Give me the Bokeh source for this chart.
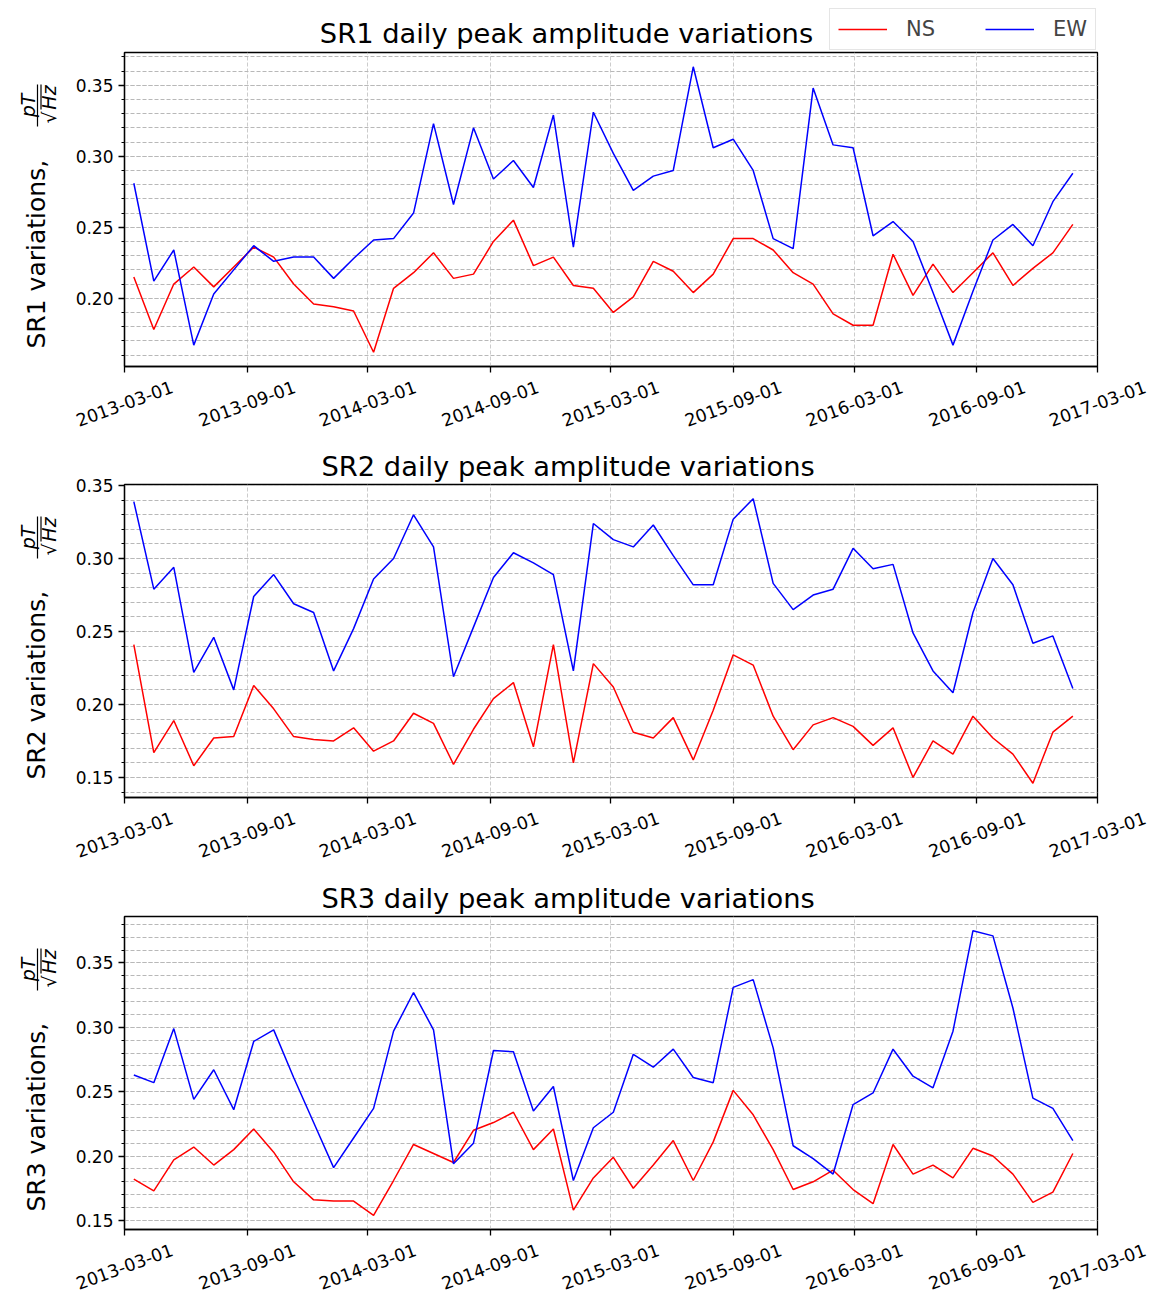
import numpy as np
import pandas as pd
from bokeh.plotting import figure
from bokeh.layouts import column, row
from bokeh.models import (Range1d, FixedTicker, SingleIntervalTicker,
                          NumeralTickFormatter, Legend, LegendItem, ColumnDataSource)
from bokeh.core.properties import value
from bokeh.embed import file_html
from bokeh.resources import INLINE

# Sampling: one value every 30 days, starting mid-March 2013
START = "2013-03-15"
STEP_DAYS = 30
N_POINTS = 48
dates = pd.date_range(START, periods=N_POINTS, freq=f"{STEP_DAYS}D")

TICK_LABELS = ["2013-03-01", "2013-09-01", "2014-03-01", "2014-09-01", "2015-03-01",
               "2015-09-01", "2016-03-01", "2016-09-01", "2017-03-01"]

SR1_NS = [0.215, 0.178, 0.210, 0.222, 0.208, 0.222, 0.236, 0.229, 0.210, 0.196, 0.194, 0.191,
          0.162, 0.207, 0.218, 0.232, 0.214, 0.217, 0.240, 0.255, 0.223, 0.229, 0.209, 0.207,
          0.190, 0.201, 0.226, 0.219, 0.204, 0.217, 0.242, 0.242, 0.234, 0.218, 0.210, 0.189,
          0.181, 0.181, 0.231, 0.202, 0.224, 0.204, 0.218, 0.232, 0.209, 0.221, 0.232, 0.252]
SR1_EW = [0.281, 0.212, 0.234, 0.167, 0.203, 0.220, 0.237, 0.226, 0.229, 0.229, 0.214, 0.228,
          0.241, 0.242, 0.260, 0.323, 0.266, 0.320, 0.284, 0.297, 0.278, 0.329, 0.236, 0.331,
          0.302, 0.276, 0.286, 0.290, 0.363, 0.306, 0.312, 0.290, 0.242, 0.235, 0.348, 0.308,
          0.306, 0.244, 0.254, 0.240, 0.204, 0.167, 0.205, 0.241, 0.252, 0.237, 0.268, 0.288]

SR2_NS = [0.241, 0.167, 0.189, 0.158, 0.177, 0.178, 0.213, 0.197, 0.178, 0.176, 0.175, 0.184,
          0.168, 0.175, 0.194, 0.187, 0.159, 0.183, 0.204, 0.215, 0.171, 0.241, 0.160, 0.228,
          0.212, 0.181, 0.177, 0.191, 0.162, 0.196, 0.234, 0.227, 0.192, 0.169, 0.186, 0.191,
          0.185, 0.172, 0.184, 0.150, 0.175, 0.166, 0.192, 0.177, 0.166, 0.146, 0.181, 0.192]
SR2_EW = [0.339, 0.279, 0.294, 0.222, 0.246, 0.210, 0.274, 0.289, 0.269, 0.263, 0.223, 0.252,
          0.286, 0.300, 0.330, 0.308, 0.219, 0.253, 0.287, 0.304, 0.297, 0.289, 0.223, 0.324,
          0.313, 0.308, 0.323, 0.302, 0.282, 0.282, 0.327, 0.341, 0.283, 0.265, 0.275, 0.279,
          0.307, 0.293, 0.296, 0.249, 0.223, 0.208, 0.263, 0.300, 0.282, 0.242, 0.247, 0.211]

SR3_NS = [0.182, 0.173, 0.197, 0.207, 0.193, 0.205, 0.221, 0.203, 0.180, 0.166, 0.165, 0.165,
          0.154, 0.181, 0.209, 0.202, 0.195, 0.220, 0.226, 0.234, 0.205, 0.221, 0.158, 0.183,
          0.199, 0.175, 0.193, 0.212, 0.181, 0.211, 0.251, 0.232, 0.205, 0.174, 0.180, 0.189,
          0.174, 0.163, 0.209, 0.186, 0.193, 0.183, 0.206, 0.200, 0.186, 0.164, 0.172, 0.202]
SR3_EW = [0.263, 0.257, 0.299, 0.244, 0.267, 0.236, 0.289, 0.298, 0.261, 0.226, 0.191, 0.214,
          0.237, 0.297, 0.327, 0.298, 0.194, 0.210, 0.282, 0.281, 0.235, 0.254, 0.181, 0.222,
          0.234, 0.279, 0.269, 0.283, 0.261, 0.257, 0.331, 0.337, 0.284, 0.208, 0.198, 0.186,
          0.240, 0.249, 0.283, 0.262, 0.253, 0.297, 0.375, 0.371, 0.315, 0.245, 0.237, 0.212]

FONT = value("DejaVu Sans")
tick_dates = pd.to_datetime(TICK_LABELS)
tick_ms = [t.value // 10**6 for t in tick_dates]

# page geometry (pixels)
PAGE_W = 1152
PANEL_H = 432
TOP_GAP = 52         # space above each frame (title row)
HEAD_H = 50          # title / legend strip above the first panel
LABEL_W = 65         # strip holding the rotated y-axis caption
FRAME_L, FRAME_R = 124, 1097
AXIS_GAP = 7         # room under the frame for the x tick marks
DATE_DROP = 37       # distance from the frame bottom to the centre of the date labels
TITLE_X = 566        # horizontal centre of each panel title
TITLE_SIZE = "27.3px"


def strip(width, height, x_range, y_range, top=0, bottom=0):
    """A bare figure used only to hold text outside the plotting frame."""
    f = figure(width=width, height=height, x_range=x_range, y_range=y_range,
               x_axis_type=None, y_axis_type=None, output_backend="svg",
               toolbar_location=None, min_border_left=0, min_border_right=0,
               min_border_top=top, min_border_bottom=bottom)
    f.outline_line_color = None
    f.grid.visible = False
    f.background_fill_color = "white"
    f.border_fill_color = "white"
    return f


def make_panel(name, ns, ew, frame_h, with_legend=False):
    title = f"{name} daily peak amplitude variations"
    # first panel: a separate strip carries the title and the legend;
    # other panels: the title sits in the plot's own top border
    top_border = TOP_GAP - HEAD_H if with_legend else TOP_GAP
    main_h = frame_h + top_border + AXIS_GAP
    tick_h = PANEL_H - main_h - (HEAD_H if with_legend else 0)

    parts = []
    if with_legend:
        head = strip(PAGE_W, HEAD_H, Range1d(0, PAGE_W), Range1d(0, HEAD_H))
        head.text(x=[TITLE_X], y=[17], text=[title], text_font=FONT,
                  text_font_size=TITLE_SIZE, text_align="center",
                  text_baseline="middle", text_color="black")
        # legend keys only: these renderers carry no visible data
        k_ns = head.line(x=[np.nan, np.nan], y=[np.nan, np.nan],
                         line_color="#ff0000", line_width=1.5)
        k_ew = head.line(x=[np.nan, np.nan], y=[np.nan, np.nan],
                         line_color="#0000ff", line_width=1.5)
        legend = Legend(items=[LegendItem(label="NS", renderers=[k_ns]),
                               LegendItem(label="EW", renderers=[k_ew])],
                        location=(829, 0), orientation="horizontal",
                        label_text_font="DejaVu Sans", label_text_font_size="21px",
                        glyph_width=49, glyph_height=20, label_standoff=19,
                        spacing=50, padding=8, margin=0,
                        border_line_color="#cccccc", border_line_width=1.5,
                        background_fill_color="white", background_fill_alpha=0.8)
        head.add_layout(legend)
        parts.append(head)

    # ---- main plot
    vals = np.concatenate([ns, ew])
    span = vals.max() - vals.min()
    y_range = Range1d(vals.min() - 0.05 * span, vals.max() + 0.05 * span)
    x_range = Range1d(tick_dates[0], tick_dates[-1])

    p = figure(width=PAGE_W - LABEL_W, height=main_h, x_axis_type="datetime",
               x_range=x_range, y_range=y_range,
               output_backend="svg", toolbar_location=None,
               min_border_left=FRAME_L - LABEL_W, min_border_right=PAGE_W - FRAME_R,
               min_border_top=top_border, min_border_bottom=AXIS_GAP)
    p.background_fill_color = "white"
    p.border_fill_color = "white"
    p.outline_line_color = "black"
    p.outline_line_width = 1.3

    if not with_legend:
        p.title.text = title
        p.title.align = "left"
        p.title.offset = 197
        p.title.text_font = "DejaVu Sans"
        p.title.text_font_style = "normal"
        p.title.text_font_size = TITLE_SIZE
        p.title.text_color = "black"
        p.title.standoff = 6

    p.line(dates, ns, line_color="#ff0000", line_width=1.5)
    p.line(dates, ew, line_color="#0000ff", line_width=1.5)

    p.xaxis.ticker = FixedTicker(ticks=tick_ms)
    p.xaxis.major_label_text_font_size = "0px"
    p.xaxis.major_label_text_color = None
    p.xaxis.major_label_standoff = 0
    p.xaxis.minor_tick_line_color = None
    p.yaxis.ticker = SingleIntervalTicker(interval=0.05, num_minor_ticks=5)
    p.yaxis.formatter = NumeralTickFormatter(format="0.00")
    p.yaxis.major_label_text_font = "DejaVu Sans"
    p.yaxis.major_label_text_font_size = "17px"
    p.yaxis.major_label_text_color = "black"
    p.yaxis.major_label_standoff = 5
    for ax in (p.xaxis, p.yaxis):
        ax.axis_line_width = 1.3
        ax.major_tick_line_width = 1.3
        ax.major_tick_out = 6
        ax.major_tick_in = 0
        ax.minor_tick_out = 3
        ax.minor_tick_in = 0

    p.xgrid.grid_line_color = "#cccccc"
    p.xgrid.grid_line_dash = "4 2"
    p.ygrid.grid_line_color = "#b8b8b8"
    p.ygrid.grid_line_dash = "4 2"
    p.ygrid.minor_grid_line_color = "#b8b8b8"
    p.ygrid.minor_grid_line_dash = "4 2"

    # ---- y caption strip: "<name> variations," + pT / sqrt(Hz)
    # its frame has the same borders as the main plot, so y runs 0..frame_h
    # from the bottom of the plotting frame to its top
    cap = strip(LABEL_W, main_h, Range1d(0, LABEL_W), Range1d(0, frame_h),
                top=top_border, bottom=AXIS_GAP)
    fy = frame_h - 53                   # centre of the fraction
    rot = dict(angle=90, angle_units="deg", text_font=FONT, text_color="black",
               text_baseline="middle")
    cap.text(x=[36], y=[18], text=[f"{name} variations,"],
             text_font_size="25px", text_align="left", **rot)
    cap.text(x=[27.5], y=[fy], text=["pT"], text_font_style="italic",
             text_font_size="19px", text_align="center", **rot)
    cap.text(x=[48], y=[fy - 12], text=["√"], text_font_size="19px",
             text_align="center", **rot)
    cap.text(x=[48], y=[fy + 8], text=["Hz"], text_font_style="italic",
             text_font_size="19px", text_align="center", **rot)
    cap.segment(x0=[37, 40.5], y0=[fy - 21, fy - 4], x1=[37, 40.5], y1=[fy + 21, fy + 21],
                line_color="black", line_width=1.2)
    parts.append(row(cap, p, spacing=0))

    # ---- date labels under the frame, sharing the main plot's time scale
    ms0, ms1 = tick_ms[0], tick_ms[-1]
    ms_per_px = (ms1 - ms0) / (FRAME_R - FRAME_L)
    tick_x = Range1d(ms0 - FRAME_L * ms_per_px, ms0 + (PAGE_W - FRAME_L) * ms_per_px)
    ticks = strip(PAGE_W, tick_h, tick_x, Range1d(0, tick_h))
    label_y = tick_h - (DATE_DROP - AXIS_GAP)
    src = ColumnDataSource(dict(x=tick_dates, y=[label_y] * len(TICK_LABELS),
                                text=TICK_LABELS))
    ticks.text(x="x", y="y", text="text", source=src, angle=20, angle_units="deg",
               text_font=FONT, text_font_size="17.5px", text_align="center",
               text_baseline="middle", text_color="black")
    parts.append(ticks)

    return column(*parts, spacing=0)


panel1 = make_panel("SR1", SR1_NS, SR1_EW, 314, with_legend=True)
panel2 = make_panel("SR2", SR2_NS, SR2_EW, 313)
panel3 = make_panel("SR3", SR3_NS, SR3_EW, 313)

layout = column(panel1, panel2, panel3, spacing=0)
open("out.html", "w").write(file_html(layout, INLINE))
